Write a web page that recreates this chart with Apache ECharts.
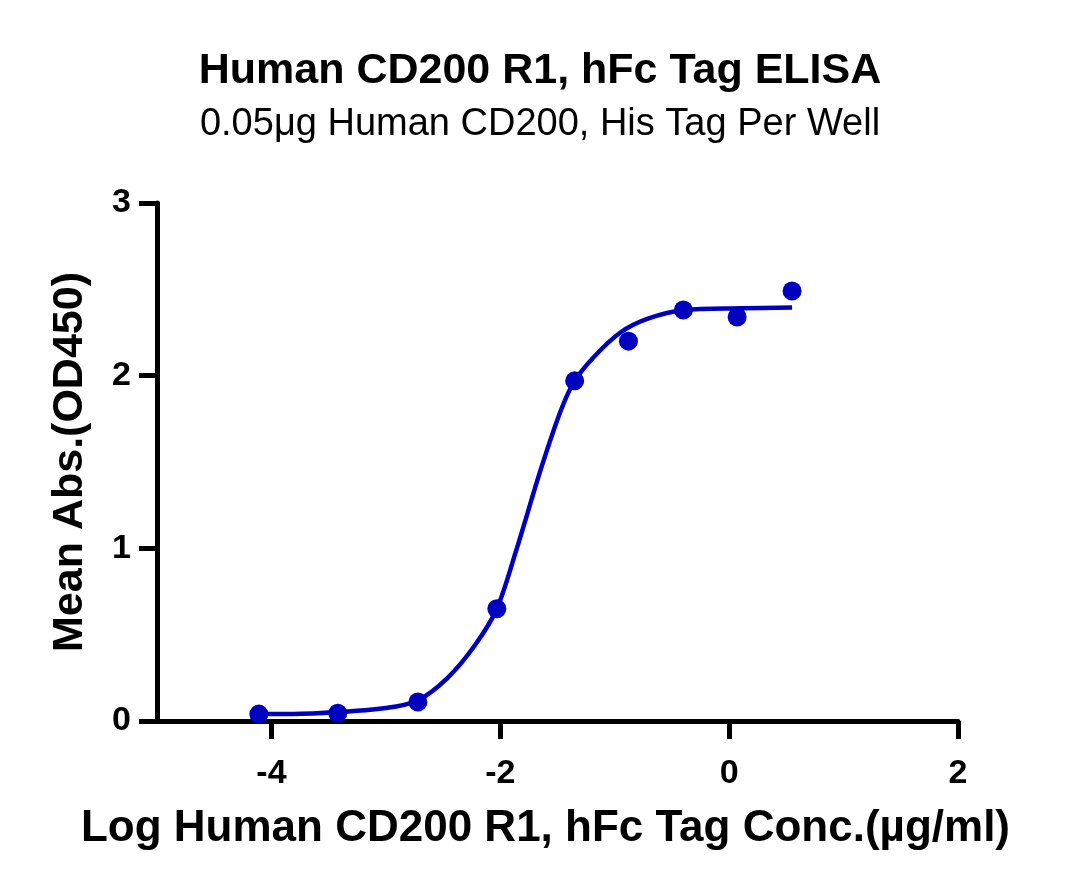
<!DOCTYPE html>
<html>
<head>
<meta charset="utf-8">
<title>Human CD200 R1, hFc Tag ELISA</title>
<script src="https://cdn.jsdelivr.net/npm/echarts@6/dist/echarts.min.js"></script>
<style>
body{padding:0;margin:0;background:#fff;}
#chartmain{width:1080px;height:896px;}
</style>
</head>
<body>
<div id="chartmain"></div>
<script type="text/javascript">
// measured points: log conc, mean OD450
var logConc = [-4.11, -3.42, -2.72, -2.03, -1.35, -0.88, -0.40, 0.07, 0.55];
var meanAbs = [0.04, 0.045, 0.11, 0.65, 1.97, 2.20, 2.38, 2.34, 2.49];
// fitted curve
var fitX = [-4.11, -3.6, -3.0, -2.72, -2.46, -2.22, -2.03, -1.86, -1.64, -1.47, -1.35, -1.18, -0.95, -0.71, -0.39, 0.1, 0.55];
var fitY = [0.04, 0.045, 0.075, 0.12, 0.25, 0.44, 0.65, 0.99, 1.47, 1.80, 1.97, 2.11, 2.25, 2.33, 2.38, 2.39, 2.395];
var xTicks = [-4, -2, 0, 2];

var blue = '#0000c0';
var font = 'Liberation Sans, Arial, sans-serif';

function pairs(a, b){
	var out = [];
	for (var i = 0; i < a.length; i++) out.push([a[i], b[i]]);
	return out;
}

var myChart = echarts.init(document.getElementById('chartmain'));
myChart.setOption({
	animation:false,
	title:{
		text:'Human CD200 R1, hFc Tag ELISA',
		subtext:'0.05μg Human CD200, His Tag Per Well',
		left:'center',
		top:45,
		itemGap:13,
		textStyle:{fontFamily:font,fontWeight:'bold',fontSize:43,color:'#000'},
		subtextStyle:{fontFamily:font,fontSize:38,color:'#000'}
	},
	grid:{left:157,right:122,top:203,bottom:175},
	xAxis:{
		type:'value',
		min:-5,max:2,interval:1,
		name:'Log Human CD200 R1, hFc Tag Conc.(µg/ml)',
		nameLocation:'middle',
		nameGap:86,
		nameTextStyle:{fontFamily:font,fontWeight:'bold',fontSize:44,color:'#000',padding:[0,24,0,0]},
		axisLine:{onZero:false,lineStyle:{color:'#000',width:5}},
		axisTick:{length:18,lineStyle:{color:'#000',width:5},
			customValues:xTicks},
		axisLabel:{fontFamily:font,fontWeight:'bold',fontSize:34,color:'#000',margin:36,
			customValues:xTicks},
		splitLine:{show:false}
	},
	yAxis:{
		type:'value',
		min:0,max:3,interval:1,
		name:'Mean Abs.(OD450)',
		nameLocation:'middle',
		nameGap:65,
		nameTextStyle:{fontFamily:font,fontWeight:'bold',fontSize:43,color:'#000'},
		axisLine:{show:true,onZero:false,lineStyle:{color:'#000',width:5}},
		axisTick:{show:true,length:18,lineStyle:{color:'#000',width:5}},
		axisLabel:{fontFamily:font,fontWeight:'bold',fontSize:34,color:'#000',margin:26},
		splitLine:{show:false}
	},
	series:[
		{
			name:'fit',
			type:'line',
			data:pairs(fitX, fitY),
			smooth:0.3,
			showSymbol:false,
			lineStyle:{color:blue,width:4.5},
			z:2
		},
		{
			name:'OD450',
			type:'scatter',
			data:pairs(logConc, meanAbs),
			symbolSize:19,
			itemStyle:{color:blue,opacity:1},
			z:3
		}
	]
});
</script>
</body>
</html>
